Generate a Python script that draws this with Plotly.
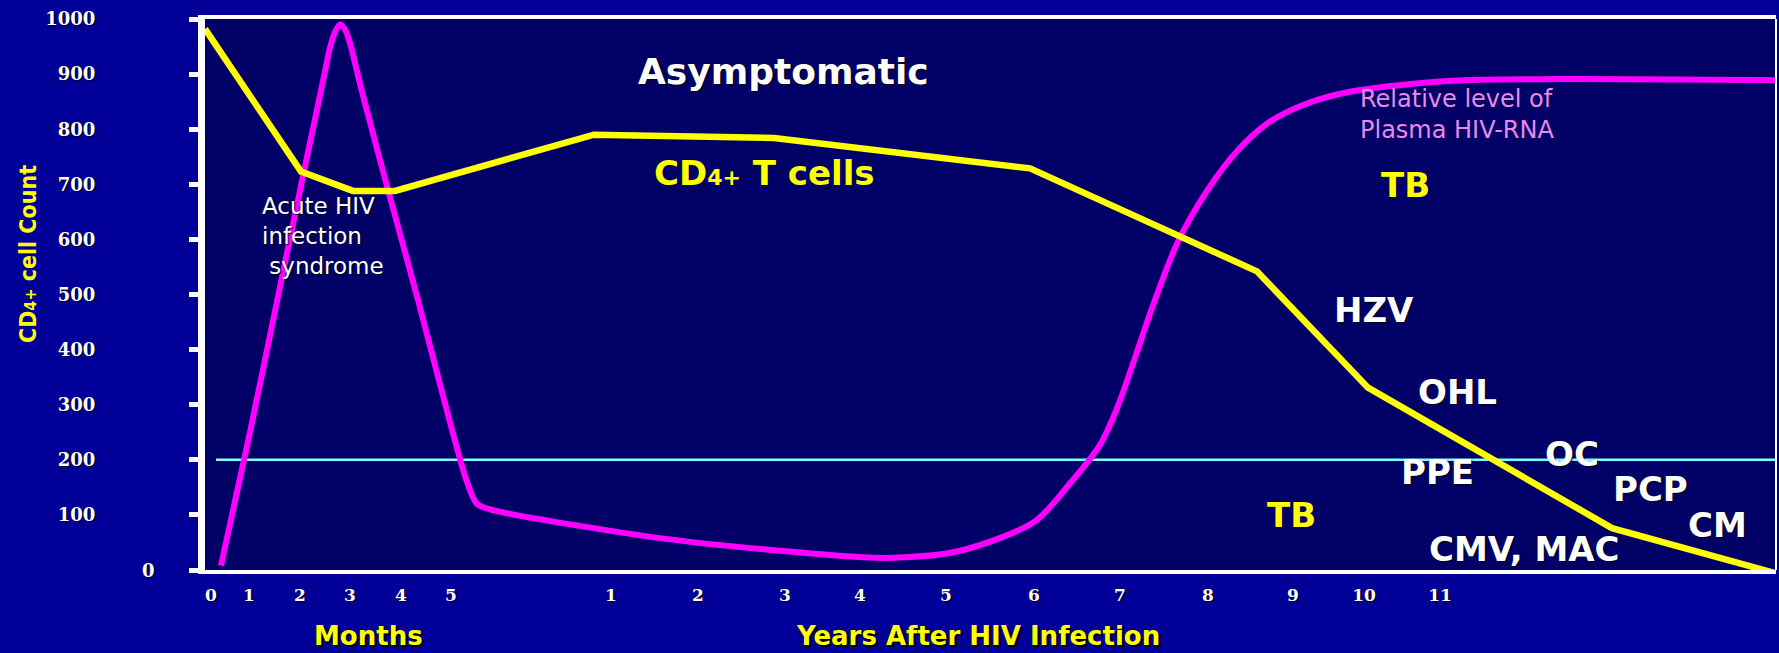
import plotly.graph_objects as go

# ---------------- data ----------------
# x positions are on a single "timeline" scale (months first, then years, uneven spacing as in the slide)
MONTH_LABELS = ["0", "1", "2", "3", "4", "5"]
MONTH_POS = [6, 44, 95, 145, 196, 246]
YEAR_LABELS = ["1", "2", "3", "4", "5", "6", "7", "8", "9", "10", "11"]
YEAR_POS = [406, 493, 580, 655, 741, 829, 915, 1003, 1088, 1159, 1235]

Y_TICKS = [0, 100, 200, 300, 400, 500, 600, 700, 800, 900, 1000]

# CD4+ T cell count (yellow)
CD4_X = [0, 96, 148, 190, 389, 481, 569, 825, 1052, 1163, 1407, 1571]
CD4_Y = [982, 723, 688, 688, 790, 787, 784, 729, 542, 331, 76, -6]

# Relative level of plasma HIV-RNA (magenta)
RNA_X = [16, 45, 73, 100, 112, 120, 125, 130, 135, 140, 145, 152, 160, 183, 213, 244, 262, 272, 285,
         463, 641, 682, 753, 829, 865, 895, 913, 930, 947, 972, 1002, 1032, 1062,
         1098, 1145, 1247, 1355, 1571]
RNA_Y = [8, 250, 496, 732, 835, 905, 948, 976, 990, 981, 956, 905, 847, 690, 490, 275, 160, 120, 110,
         56, 25, 22, 34, 87, 157, 227, 298, 385, 475, 592, 688, 760, 810,
         844, 868, 888, 891, 889]

THRESHOLD = 200
THRESHOLD_X = [11, 1571]

# opportunistic infection labels
OI_LABELS = ["HZV", "OHL", "OC", "PPE", "PCP", "CMV, MAC", "CM"]
OI_X = [1169, 1252, 1367, 1232, 1445, 1319, 1512]
OI_Y = [472, 323, 211, 178, 147, 38, 82]
TB_X = [1200, 1086]
TB_Y = [699, 100]

# ---------------- style ----------------
W, H = 1779, 653
ML, MR, MT, MB = 205, 3, 19, 83
PW, PH = W - ML - MR, H - MT - MB
YELLOW = "#FFFF00"
MAGENTA = "#FF00FF"
WHITE = "#FFFFFF"
SANS = "DejaVu Sans, Liberation Sans, Arial"
SERIF = "DejaVu Serif, Liberation Serif, Times New Roman"
SH_WHITE = "1px 1px 1px #00001a"
SH_YEL = "2px 2px 1px #000000"


def px_x(px):
    return (px - ML) / PW


def px_y(py):
    return (H - MB - py) / PH


fig = go.Figure()

fig.add_trace(go.Scatter(x=THRESHOLD_X, y=[THRESHOLD] * len(THRESHOLD_X), mode="lines",
                         line=dict(color="#80FFFF", width=2.5), hoverinfo="skip",
                         showlegend=False))
fig.add_trace(go.Scatter(x=RNA_X, y=RNA_Y, mode="lines",
                         line=dict(color=MAGENTA, width=6, shape="spline", smoothing=0.8),
                         showlegend=False, name="Plasma HIV-RNA"))
fig.add_trace(go.Scatter(x=CD4_X, y=CD4_Y, mode="lines",
                         line=dict(color=YELLOW, width=6.5), showlegend=False,
                         name="CD4+ T cells"))

ann = []


def txt(x, y, s, size, color=WHITE, bold=True, xanchor="center", ref="data", shadow=SH_WHITE,
        family=SANS, angle=0, align="center"):
    d = dict(x=x, y=y, text=s, showarrow=False, xanchor=xanchor, yanchor="middle",
             textangle=angle, align=align,
             font=dict(family=family, size=size, color=color,
                       weight="bold" if bold else "normal", shadow=shadow))
    if ref == "paper":
        d.update(xref="paper", yref="paper")
    else:
        d.update(xref="x", yref="y")
    ann.append(d)


txt(578, 904, "Asymptomatic", 36)
txt(559, 720, "CD<span style='font-size:22px'>4+</span> T cells", 34, color=YELLOW, shadow="none")
txt(55, 606, "Acute HIV<br>infection<br>\u00a0syndrome", 23, bold=False, xanchor="left", align="left")
txt(1153, 826, "Relative level of<br>Plasma HIV-RNA", 24, color="#E88AE8", bold=False,
    xanchor="left", align="left", shadow="none")
for s, x, y in zip(OI_LABELS, OI_X, OI_Y):
    txt(x, y, s, 34)
for x, y in zip(TB_X, TB_Y):
    txt(x, y, "TB", 34, color=YELLOW, shadow="none")

# bottom titles
txt(px_x(368), px_y(636), "Months", 26, color=YELLOW, ref="paper", shadow=SH_YEL)
txt(px_x(978), px_y(636), "Years After HIV Infection", 26, color=YELLOW, ref="paper", shadow=SH_YEL)
# y title
txt(px_x(28), px_y(254), "CD<span style='font-size:16px'>4+</span> cell Count", 23, color=YELLOW,
    ref="paper", shadow="none", family="Liberation Sans Narrow, DejaVu Sans Condensed, Liberation Sans",
    angle=-90)
# the slide's "0" label sits off to the right of the others
txt(px_x(148), px_y(570), "0", 18, ref="paper", family=SERIF)

fig.update_layout(
    width=W, height=H,
    margin=dict(l=ML, r=MR, t=MT, b=MB, pad=0),
    paper_bgcolor="#000099",
    plot_bgcolor="#000066",
    annotations=ann,
    shapes=[dict(type="line", xref="x domain", yref="y domain", x0=1, x1=1, y0=0, y1=1,
                 line=dict(color=WHITE, width=2))],
    xaxis=dict(range=[0, PW], tickvals=MONTH_POS + YEAR_POS, ticktext=MONTH_LABELS + YEAR_LABELS,
               showgrid=False, zeroline=False, showline=True, linecolor=WHITE, linewidth=4,
               mirror=True, ticks="", ticklabelstandoff=7,
               tickfont=dict(family=SERIF, size=17, color=WHITE, weight="bold", shadow=SH_WHITE)),
    yaxis=dict(range=[0, 1000], tickvals=Y_TICKS,
               ticktext=[("" if v == 0 else str(v)) for v in Y_TICKS],
               showgrid=False, zeroline=False, showline=True, linecolor=WHITE, linewidth=7,
               ticks="outside", ticklen=9, tickwidth=5, tickcolor=WHITE, ticklabelstandoff=90,
               tickfont=dict(family=SERIF, size=18, color=WHITE, weight="bold", shadow=SH_WHITE)),
)

fig.write_html("out.html", config={"displayModeBar": False},
               post_script="document.body.style.margin='0';document.body.style.background='#000099';")
